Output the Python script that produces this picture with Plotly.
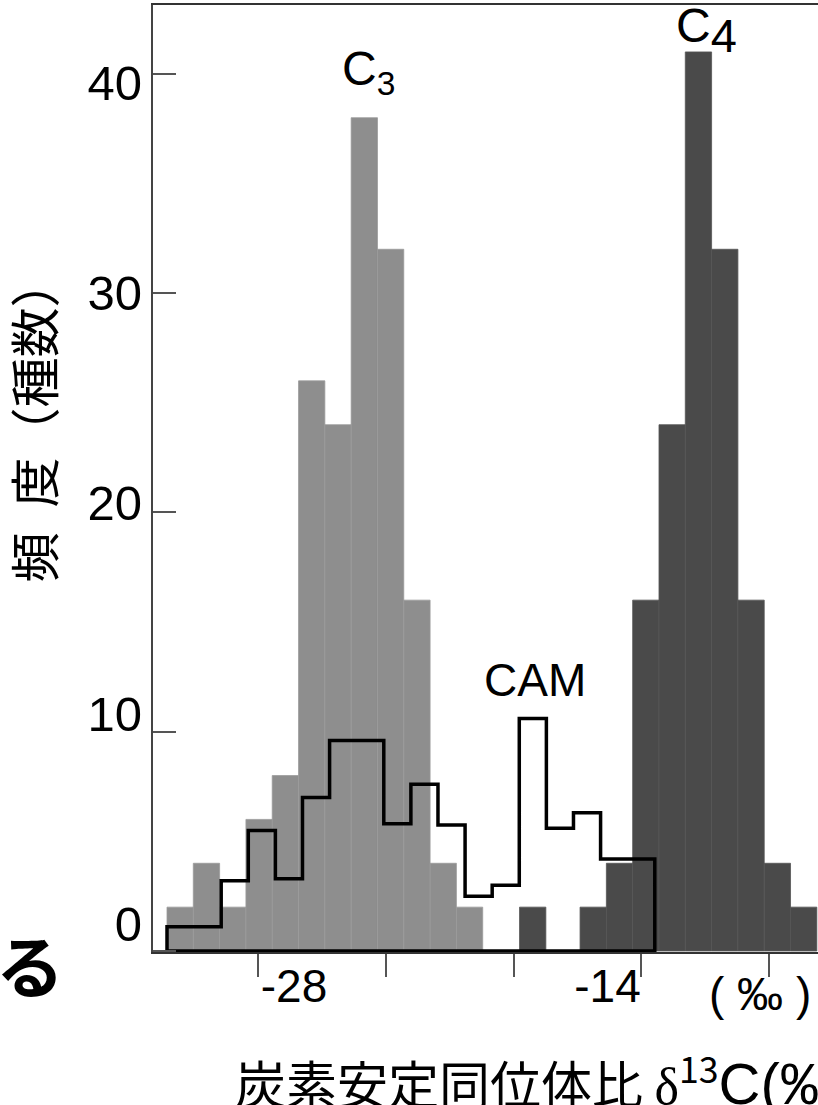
import plotly.graph_objects as go

# ---------------- data ----------------
# C3 plants (light grey histogram), bin centres in per-mil and species counts
c3_centers = [-33, -32, -31, -30, -29, -28, -27, -26, -25, -24, -23, -22]
c3_counts = [2, 4, 2, 6, 8, 26, 24, 38, 32, 16, 4, 2]

# C4 plants (dark grey histogram)
c4_centers = [-19.6, -17.3, -16.3, -15.3, -14.3, -13.3, -12.3, -11.3, -10.3, -9.3]
c4_counts = [2, 2, 4, 16, 24, 41, 32, 16, 4, 2]

# CAM plants (black outline histogram)
cam_start = -33.5
cam_width = 1.03
cam_counts = [1.1, 1.1, 3.2, 5.5, 3.3, 7.0, 9.6, 9.6, 5.8, 7.6, 5.75, 2.5,
              3.0, 10.6, 5.6, 6.3, 4.2, 4.2]

y_tick_values = [0, 10, 20, 30, 40]
x_label_values = [-28, -14]
x_label_text = ["-28", "-14"]

# ---------------- figure ----------------
W, H = 818, 1105
ML, MR, MT, MB = 153, 0, 5, 153
PW, PH = W - ML - MR, H - MT - MB

def px(xp):
    return (xp - ML) / PW

def py(yp):
    return (H - MB - yp) / PH

NUM_FONT = "Liberation Sans, Arial, sans-serif"
CJK_FONT = "Noto Sans CJK JP, sans-serif"

fig = go.Figure()

fig.add_trace(go.Bar(
    x=c3_centers, y=c3_counts, width=1, name="C3",
    marker=dict(color="#8e8e8e", line=dict(color="#9a9a9a", width=0.8)),
    showlegend=False, hoverinfo="skip"))

fig.add_trace(go.Bar(
    x=c4_centers, y=c4_counts, width=1, name="C4",
    marker=dict(color="#4a4a4a", line=dict(color="#555555", width=0.8)),
    showlegend=False, hoverinfo="skip"))

edges = [cam_start + i * cam_width for i in range(len(cam_counts) + 1)]
cam_x, cam_y = [edges[0]], [0]
for i, v in enumerate(cam_counts):
    cam_x += [edges[i], edges[i + 1]]
    cam_y += [v, v]
cam_x += [edges[-1], edges[0]]
cam_y += [0, 0]
fig.add_trace(go.Scatter(
    x=cam_x, y=cam_y, mode="lines", name="CAM",
    line=dict(color="black", width=3.5), showlegend=False, hoverinfo="skip"))

# invisible trace to carry the label axes
fig.add_trace(go.Scatter(x=[None], y=[None], xaxis="x2", yaxis="y2",
                         showlegend=False, hoverinfo="skip"))

fig.update_layout(
    width=W, height=H,
    margin=dict(l=ML, r=MR, t=MT, b=MB, pad=0),
    paper_bgcolor="white", plot_bgcolor="white",
    barmode="overlay",
    xaxis=dict(range=[-34.032, -8.756], showline=True, linecolor="#333333",
               linewidth=2, mirror=True, ticks="outside", ticklen=23,
               tickwidth=2, tickcolor="#555555",
               tick0=-30.03, dtick=4.855,
               showticklabels=False, showgrid=False, zeroline=False),
    yaxis=dict(range=[-0.046, 43.14], showline=True, linecolor="#444444",
               linewidth=2, ticks="inside", ticklen=23, tickwidth=2,
               tickcolor="#555555", tickvals=y_tick_values,
               showticklabels=False, showgrid=False, zeroline=False),
    yaxis2=dict(overlaying="y", anchor="x", side="left",
                range=[-1.331, 43.68], tickvals=y_tick_values,
                ticktext=[str(v) for v in y_tick_values],
                ticks="", showline=False, showgrid=False, zeroline=False,
                tickfont=dict(family=NUM_FONT, size=49, color="black"),
                ticklabelstandoff=10),
    xaxis2=dict(overlaying="x", anchor="y", side="bottom",
                range=[-34.297, -4.597], tickvals=x_label_values,
                ticktext=x_label_text, ticks="", showline=False,
                showgrid=False, zeroline=False,
                tickfont=dict(family=NUM_FONT, size=46, color="black"),
                ticklabelstandoff=3),
)

annotations = [
    dict(x=-25.86, y=40.08, xref="x", yref="y", text="C<sub>3</sub>",
         font=dict(family=NUM_FONT, size=48, color="black"),
         xanchor="center", yanchor="middle", showarrow=False),
    dict(x=-13.01, y=42.0, xref="x", yref="y",
         text="C<sub><span style=\"font-size:47px\">4</span></sub>",
         font=dict(family=NUM_FONT, size=48, color="black"),
         xanchor="center", yanchor="middle", showarrow=False),
    dict(x=-19.51, y=12.36, xref="x", yref="y", text="CAM",
         font=dict(family=NUM_FONT, size=46, color="black"),
         xanchor="center", yanchor="middle", showarrow=False),
    dict(x=px(760), y=py(994), xref="paper", yref="paper", text="( ‰ )",
         font=dict(family=NUM_FONT, size=46, color="black"),
         xanchor="center", yanchor="middle", showarrow=False),
    dict(x=px(31.5), y=py(420), xref="paper", yref="paper",
         text="頻\u2002度（種数）", textangle=-90,
         font=dict(family=CJK_FONT, size=50, color="black"),
         xanchor="center", yanchor="middle", showarrow=False),
    dict(x=px(233), y=py(1080), xref="paper", yref="paper",
         text=("炭素安定同位体比 "
               "<span style=\"font-family:Liberation Serif;font-size:52px\">δ</span>"
               "<sup>13</sup>"
               "<span style=\"font-family:Liberation Sans;font-size:58px\">C(‰)</span>"),
         font=dict(family=CJK_FONT, size=51, color="black"),
         xanchor="left", yanchor="middle", showarrow=False),
    dict(x=px(30), y=py(963), xref="paper", yref="paper",
         text="<b>る</b>",
         font=dict(family=CJK_FONT, size=68, color="black"),
         xanchor="center", yanchor="middle", showarrow=False),
]
fig.update_layout(annotations=annotations)

fig.write_html("out.html")
